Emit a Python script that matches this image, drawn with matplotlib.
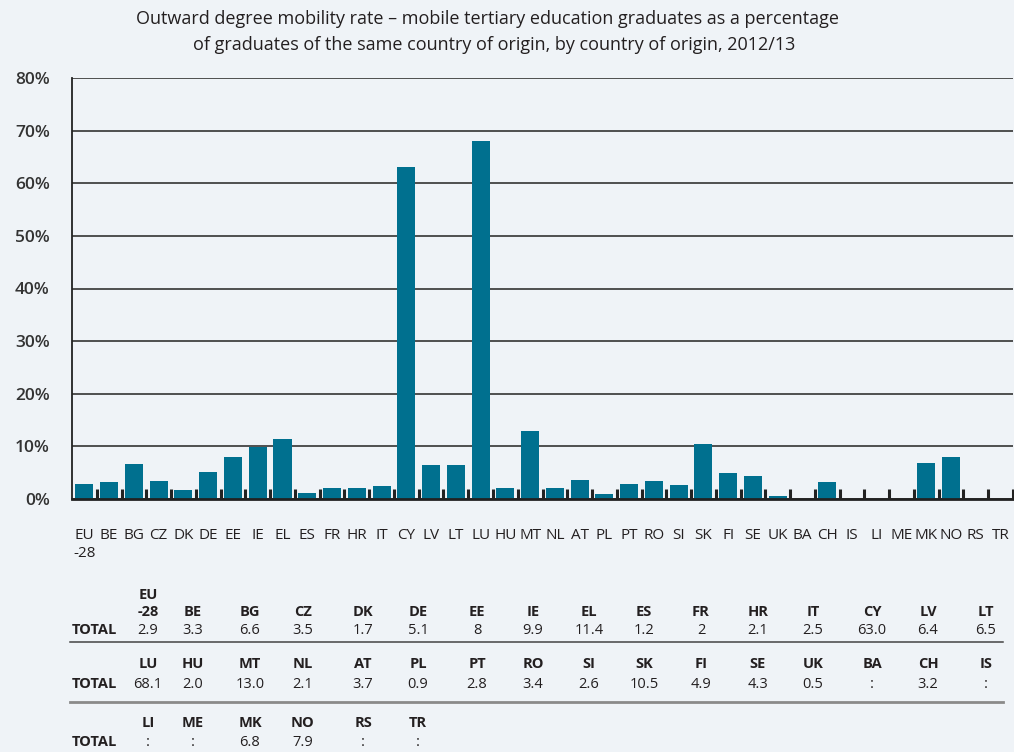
import numpy as np
import matplotlib
matplotlib.use("Agg")
import matplotlib.pyplot as plt
from matplotlib.lines import Line2D
from matplotlib.ticker import FixedLocator, FuncFormatter

# ---------------- data ----------------
countries = ["EU\n-28", "BE", "BG", "CZ", "DK", "DE", "EE", "IE", "EL", "ES",
             "FR", "HR", "IT", "CY", "LV", "LT", "LU", "HU", "MT", "NL",
             "AT", "PL", "PT", "RO", "SI", "SK", "FI", "SE", "UK", "BA",
             "CH", "IS", "LI", "ME", "MK", "NO", "RS", "TR"]
totals = ["2.9", "3.3", "6.6", "3.5", "1.7", "5.1", "8", "9.9", "11.4", "1.2",
          "2", "2.1", "2.5", "63.0", "6.4", "6.5", "68.1", "2.0", "13.0", "2.1",
          "3.7", "0.9", "2.8", "3.4", "2.6", "10.5", "4.9", "4.3", "0.5", ":",
          "3.2", ":", ":", ":", "6.8", "7.9", ":", ":"]
values = [float(t) if t != ":" else np.nan for t in totals]
yticks = [0, 10, 20, 30, 40, 50, 60, 70, 80]
title_lines = ["Outward degree mobility rate \u2013 mobile tertiary education graduates as a percentage",
               "of graduates of the same country of origin, by country of origin, 2012/13"]
row_label = "TOTAL"

# ---------------- style ----------------
W, H = 1014, 752
BG = "#eff3f7"
BAR = "#00708f"
TXT = "#231f20"
FONT = ["Open Sans", "DejaVu Sans"]
plt.rcParams["font.family"] = FONT

def fx(px):
    return px / W

def fy(py):
    return 1 - py / H

fig = plt.figure(figsize=(W / 100, H / 100), dpi=100, facecolor=BG)
ax = fig.add_axes([fx(72), fy(499), fx(1013) - fx(72), fy(78) - fy(499)])
ax.set_facecolor(BG)

x = np.arange(len(countries))
ax.bar(x, values, width=0.73, color=BAR, zorder=3)

ax.set_xlim(-0.5, len(countries) - 0.5)
ax.set_ylim(0, 80)
ax.set_yticks(yticks)
ax.yaxis.set_major_formatter(FuncFormatter(lambda v, p: f"{v:.0f}%"))
ax.yaxis.grid(True, color="#333333", lw=1.2, zorder=1)
ax.set_axisbelow(True)

for s in ["top", "right"]:
    ax.spines[s].set_visible(False)
ax.spines["left"].set_color("#222222")
ax.spines["left"].set_linewidth(1.3)
ax.spines["bottom"].set_color("#222222")
ax.spines["bottom"].set_linewidth(2)
ax.spines["bottom"].set_zorder(4)

ax.set_xticks(x)
ax.set_xticklabels(countries, fontsize=11, color=TXT, va="top", linespacing=1.3)
ax.tick_params(axis="x", which="major", length=0, pad=21)
ax.xaxis.set_minor_locator(FixedLocator(np.arange(0.5, len(countries), 1.0)))
ax.tick_params(axis="x", which="minor", direction="in", length=7.5, width=2.2,
               color="#222222")
ax.tick_params(axis="y", length=0, pad=16, labelsize=12.5, labelcolor="#333333")
for lab in ax.get_yticklabels():
    lab.set_fontweight("semibold")

# title
fig.text(fx(487), fy(19), title_lines[0], ha="center", va="center",
         fontsize=13, color=TXT)
fig.text(fx(494), fy(45), title_lines[1], ha="center", va="center",
         fontsize=13, color=TXT)

# ---------------- table ----------------
col_x = [148, 193, 250, 303, 363, 418, 477, 533, 589, 644, 701, 758, 813, 872, 928, 986]
row_head_bottom = [619, 671, 730]
row_val_y = [630, 684, 742]
ncol = len(col_x)
for r in range(3):
    fig.text(fx(72), fy(row_val_y[r]), row_label, ha="left", va="center",
             fontsize=10.5, fontweight="bold", color=TXT)
    chunk = list(range(r * ncol, min((r + 1) * ncol, len(countries))))
    for j, i in enumerate(chunk):
        fig.text(fx(col_x[j]), fy(row_head_bottom[r]), countries[i], ha="center",
                 va="bottom", fontsize=10.5, fontweight="bold", color=TXT,
                 linespacing=1.25)
        fig.text(fx(col_x[j]), fy(row_val_y[r]), totals[i], ha="center",
                 va="center", fontsize=10.5, color=TXT)

fig.add_artist(Line2D([fx(70), fx(1003)], [fy(642), fy(642)], color="#444444", lw=1.1))
fig.add_artist(Line2D([fx(70), fx(1003)], [fy(702), fy(702)], color="#8a8a8a", lw=2))

fig.savefig("out.png", dpi=100, facecolor=BG)
